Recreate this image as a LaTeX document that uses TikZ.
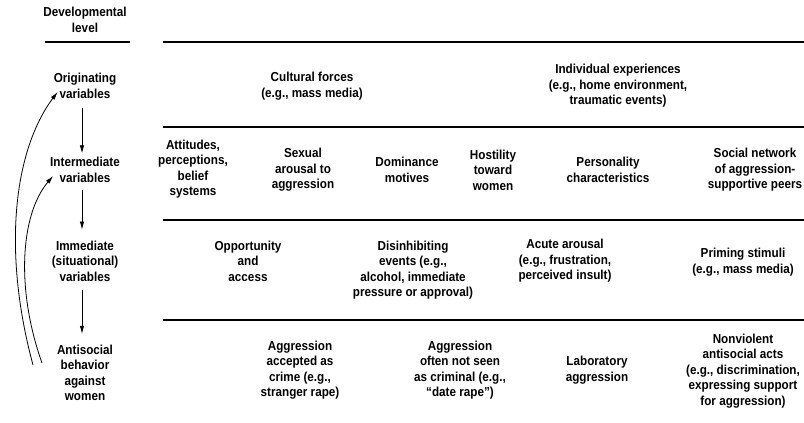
\documentclass[tikz,border=0pt]{standalone}
\usepackage{fontspec}
\setmainfont{Liberation Sans}[FakeStretch=0.9]
\usetikzlibrary{arrows.meta}

\tikzset{
    lbl/.style={align=center, inner sep=0pt, font=\bfseries\fontsize{13}{15.5}\selectfont},
    rule/.style={line width=1.3pt},
    arr/.style={-{Latex[length=8pt,width=4.5pt]}, line width=0.8pt},
}

\begin{document}
\begin{tikzpicture}[x=1pt,y=-1pt]
    \useasboundingbox (0,0) rectangle (804,423);

    % left column
    \node[lbl] (devel) at (85,20) {Developmental\\level};
    \node[lbl] (orig)  at (85,86) {Originating\\variables};
    \node[lbl] (inter) at (85,170) {Intermediate\\variables};
    \node[lbl] (immed) at (85,261) {Immediate\\(situational)\\variables};
    \node[lbl] (anti)  at (85,373) {Antisocial\\behavior\\against\\women};

    % rules
    \draw[rule] (45,42) -- (130,42);
    \foreach \y in {42,127,220,320}
    {
        \draw[rule] (163,\y) -- (804,\y);
    }

    % originating
    \node[lbl] (cult)  at (312,86) {Cultural forces\\(e.g., mass media)};
    \node[lbl] (indiv) at (618,86) {Individual experiences\\(e.g., home environment,\\traumatic events)};

    % intermediate
    \node[lbl] (attit) at (193,169) {Attitudes,\\perceptions,\\belief\\systems};
    \node[lbl] (sexar) at (303,170) {Sexual\\arousal to\\aggression};
    \node[lbl] (domin) at (407,170) {Dominance\\motives};
    \node[lbl] (host)  at (493,170) {Hostility\\toward\\women};
    \node[lbl] (pers)  at (608,170) {Personality\\characteristics};
    \node[lbl] (socnet) at (755,170) {Social network\\of aggression-\\supportive peers};

    % immediate
    \node[lbl] (opp)   at (248,261) {Opportunity\\and\\access};
    \node[lbl] (disinh) at (413,270) {Disinhibiting\\events (e.g.,\\alcohol, immediate\\pressure or approval)};
    \node[lbl] (acute) at (565,261) {Acute arousal\\(e.g., frustration,\\perceived insult)};
    \node[lbl] (prime) at (743,262) {Priming stimuli\\(e.g., mass media)};

    % antisocial behavior
    \node[lbl] (crime) at (300,370) {Aggression\\accepted as\\crime (e.g.,\\stranger rape)};
    \node[lbl] (notcrime) at (460,370) {Aggression\\often not seen\\as criminal (e.g.,\\``date rape'')};
    \node[lbl] (lab)   at (597,370) {Laboratory\\aggression};
    \node[lbl] (nonviol) at (743,371) {Nonviolent\\antisocial acts\\(e.g., discrimination,\\expressing support\\for aggression)};

    % arrows down the levels
    \draw[arr, shorten <=9pt, shorten >=4pt] ([xshift=-3pt]orig.south) -- ([xshift=-3pt]inter.north);
    \draw[arr, shorten <=7pt, shorten >=11pt] ([xshift=-3pt]inter.south) -- ([xshift=-3pt]immed.north);
    \draw[arr, shorten <=9pt, shorten >=11pt] ([xshift=-3pt]immed.south) -- ([xshift=-3pt]anti.north);

    % feedback curves
    \coordinate (outerfoot) at (33,365);
    \coordinate (innerfoot) at (42,363);
    \draw[arr] (outerfoot) .. controls (2,250) and (14,150) .. ([shift={(4pt,-6pt)}]orig.west);
    \draw[arr] (innerfoot) .. controls (16,290) and (20,215) .. ([shift={(3pt,-6pt)}]inter.west);

\end{tikzpicture}
\end{document}
